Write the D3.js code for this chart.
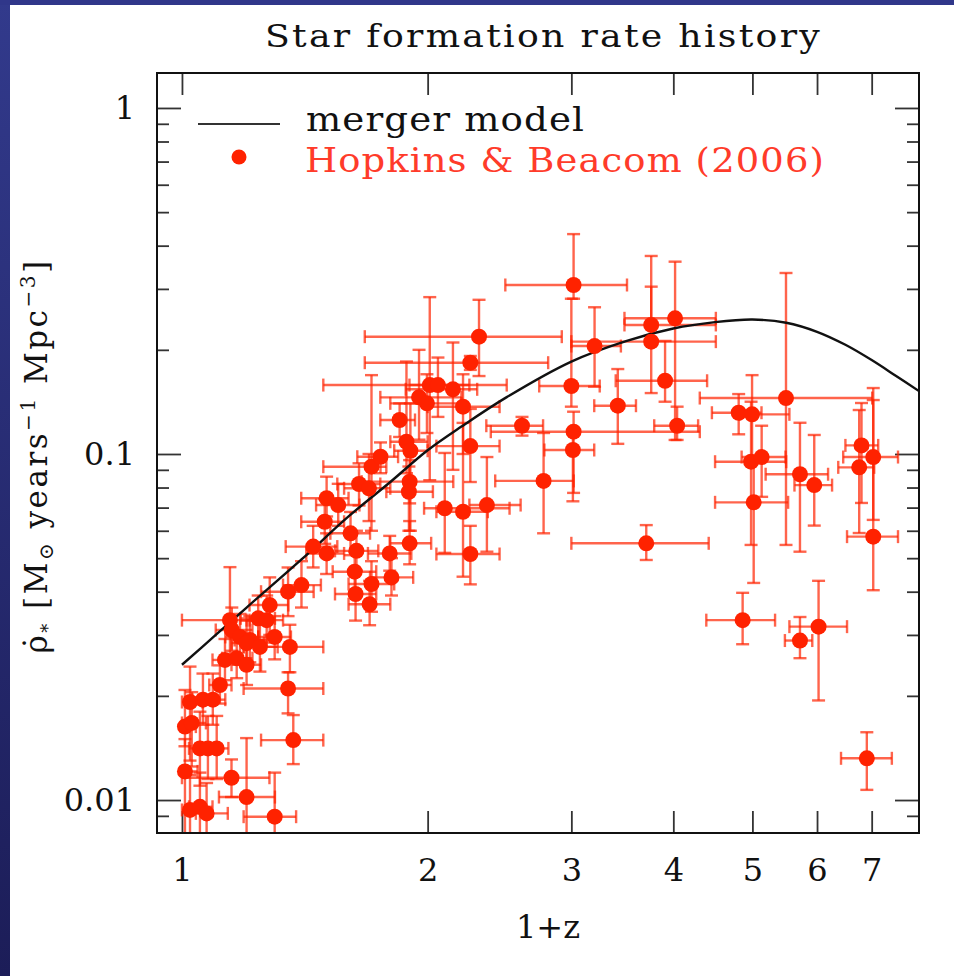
<!DOCTYPE html>
<html>
<head>
<meta charset="utf-8">
<script src="https://cdn.jsdelivr.net/npm/d3@7"></script>
<style>
  body { margin: 0; background: #fff; }
  svg { display: block; }
</style>
</head>
<body>
<svg id="chart" width="954" height="976"></svg>
<script>
// ---- Hopkins & Beacom (2006) compilation: 1+z, its range, SFR density and its range ----
const obsZ = [
  1.0085, 1.023, 1.052, 1.072, 1.0085, 1.028, 1.023, 1.061, 1.091, 1.113,
  1.129, 1.167, 1.200, 1.145, 1.151, 1.178, 1.211, 1.200, 1.240, 1.270,
  1.281, 1.299, 1.246, 1.356, 1.349, 1.401, 1.349, 1.369, 1.052, 1.076,
  1.103, 1.150, 1.200, 1.299,
  1.448, 1.504, 1.496, 1.504, 1.554, 1.609, 1.636, 1.628, 1.632, 1.707,
  1.698, 1.806, 1.797, 1.901, 1.648, 1.695, 1.707, 1.751, 1.848, 1.884,
  1.905, 1.901, 1.897, 1.952, 1.996, 2.012, 2.059, 2.148, 2.210, 2.256,
  2.312, 2.256, 2.099, 2.210, 2.364, 2.256,
  2.610, 2.774, 3.019, 3.000, 3.019, 3.013, 3.203, 3.420, 3.706, 3.758,
  3.758, 4.020, 3.908, 4.043,
  4.810, 4.995, 4.981, 5.132, 5.018, 5.497, 5.718, 5.953, 6.802, 6.758,
  7.031, 7.031, 4.864, 5.718, 6.026, 6.905
];
const obsZLo = [
  1.0, 1.0, 1.02, 1.04, 1.0, 1.0, 1.0, 1.03, 1.06, 1.08,
  1.09, 1.12, 1.15, 1.0, 1.10, 1.13, 1.16, 1.15, 1.18, 1.20,
  1.21, 1.24, 1.19, 1.19, 1.25, 1.33, 1.19, 1.25, 1.02, 1.04,
  1.07, 1.0, 1.11, 1.19,
  1.34, 1.42, 1.40, 1.40, 1.46, 1.52, 1.54, 1.53, 1.54, 1.60,
  1.60, 1.70, 1.69, 1.80, 1.55, 1.58, 1.49, 1.64, 1.75, 1.80,
  1.82, 1.66, 1.78, 1.75, 1.80, 1.49, 1.90, 1.88, 2.00, 1.675,
  1.675, 2.05, 1.98, 2.05, 2.25, 2.05,
  2.36, 2.42, 2.49, 2.74, 2.39, 2.78, 3.00, 3.20, 3.00, 3.485,
  3.00, 3.485, 3.40, 3.79,
  4.46, 4.82, 4.50, 4.85, 4.50, 4.31, 5.19, 5.63, 6.50, 6.37,
  6.46, 6.53, 4.39, 5.48, 5.55, 6.42
];
const obsZHi = [
  1.045, 1.06, 1.09, 1.138, 1.04, 1.07, 1.06, 1.10, 1.13, 1.15,
  1.18, 1.22, 1.25, 1.21, 1.22, 1.24, 1.27, 1.26, 1.30, 1.33,
  1.35, 1.36, 1.31, 1.49, 1.45, 1.48, 1.49, 1.49, 1.09, 1.11,
  1.14, 1.28, 1.30, 1.38,
  1.55, 1.58, 1.58, 1.60, 1.65, 1.70, 1.74, 1.73, 1.73, 1.82,
  1.80, 1.92, 1.91, 2.02, 1.75, 1.80, 1.78, 1.84, 1.93, 2.00,
  2.00, 2.15, 2.03, 2.20, 2.20, 2.50, 2.25, 2.30, 2.45, 2.81,
  2.92, 2.45, 2.52, 2.37, 2.60, 2.45,
  2.77, 3.02, 3.51, 3.25, 4.31, 3.20, 3.45, 3.60, 4.42, 4.51,
  4.51, 4.51, 4.40, 4.29,
  5.13, 5.55, 5.50, 5.49, 5.53, 7.01, 6.19, 6.26, 7.13, 7.05,
  7.54, 7.54, 5.33, 5.92, 6.53, 7.41
];
const obsRho = [
  0.0121, 0.00936, 0.00956, 0.00915, 0.0163, 0.0167, 0.0192, 0.0195, 0.0195, 0.0215,
  0.0254, 0.0257, 0.0246, 0.0331, 0.0310, 0.0296, 0.0290, 0.0284, 0.0335, 0.0331,
  0.0366, 0.0296, 0.0277, 0.0277, 0.0400, 0.0418, 0.0210, 0.0149, 0.0141, 0.0141,
  0.0141, 0.0116, 0.0102, 0.00895,
  0.0540, 0.0516, 0.0637, 0.0745, 0.0712, 0.0590, 0.0525, 0.0457, 0.0394, 0.0421,
  0.0368, 0.0440, 0.0516, 0.0552, 0.0819, 0.0796, 0.0919, 0.0982, 0.1254, 0.1085,
  0.1022, 0.0832, 0.0778, 0.1458, 0.1401, 0.1582, 0.1582, 0.1538, 0.1370, 0.1836,
  0.2183, 0.1054, 0.0697, 0.0681, 0.0712, 0.0514,
  0.1207, 0.0836, 0.3079, 0.1572, 0.1160, 0.1027, 0.2051, 0.1379, 0.0552, 0.2360,
  0.2112, 0.2467, 0.1628, 0.1207,
  0.1316, 0.1302, 0.0950, 0.0980, 0.0725, 0.1451, 0.0874, 0.0813, 0.1059, 0.0915,
  0.0980, 0.0577, 0.0331, 0.0289, 0.0317, 0.0132
];
const obsRhoLo = [
  0.0078, 0.0075, 0.0075, 0.0075, 0.0143, 0.0125, 0.0130, 0.0165, 0.0165, 0.0190,
  0.0222, 0.0225, 0.0215, 0.0254, 0.0270, 0.0255, 0.0250, 0.0245, 0.0290, 0.0285,
  0.0300, 0.0255, 0.0235, 0.0234, 0.0340, 0.0360, 0.0178, 0.0127, 0.0110, 0.0115,
  0.0115, 0.0102, 0.0075, 0.0075,
  0.0470, 0.0450, 0.0550, 0.0660, 0.0620, 0.0510, 0.0460, 0.0400, 0.0330, 0.0350,
  0.0320, 0.0390, 0.0460, 0.0480, 0.0710, 0.0640, 0.0600, 0.0880, 0.1120, 0.0880,
  0.0600, 0.0720, 0.0600, 0.1100, 0.1150, 0.0840, 0.1280, 0.0900, 0.1000, 0.1750,
  0.1680, 0.0830, 0.0518, 0.0442, 0.0522, 0.0420,
  0.113, 0.059, 0.281, 0.137, 0.0772, 0.073, 0.1565, 0.107, 0.0494, 0.2065,
  0.150, 0.1098, 0.1416, 0.1098,
  0.114, 0.0961, 0.0546, 0.0752, 0.0424, 0.0546, 0.0522, 0.0621, 0.0722, 0.0591,
  0.0645, 0.0404, 0.0282, 0.0257, 0.0194, 0.0107
];
const obsRhoHi = [
  0.0150, 0.0118, 0.0120, 0.0112, 0.0208, 0.0205, 0.0243, 0.0232, 0.0232, 0.0245,
  0.0292, 0.0295, 0.0285, 0.0471, 0.0360, 0.0345, 0.0340, 0.0330, 0.0390, 0.0390,
  0.0440, 0.0340, 0.0325, 0.0321, 0.0470, 0.0490, 0.0234, 0.0176, 0.0180, 0.0175,
  0.0175, 0.0131, 0.0151, 0.0120,
  0.0620, 0.0590, 0.0740, 0.0860, 0.0820, 0.0680, 0.0600, 0.0520, 0.0460, 0.0490,
  0.0430, 0.0500, 0.0580, 0.0640, 0.0940, 0.1000, 0.1690, 0.1080, 0.1400, 0.1850,
  0.1400, 0.0960, 0.0920, 0.2000, 0.1700, 0.2840, 0.1900, 0.2100, 0.1700, 0.1920,
  0.2790, 0.1350, 0.1007, 0.1230, 0.0980, 0.0620,
  0.128, 0.115, 0.432, 0.281, 0.1325, 0.117, 0.2655, 0.176, 0.0623, 0.3735,
  0.3045, 0.3596, 0.2122, 0.137,
  0.149, 0.169, 0.1416, 0.1207, 0.0961, 0.3335, 0.1231, 0.1135, 0.1404, 0.134,
  0.1432, 0.1551, 0.0397, 0.0338, 0.043, 0.0157
];

// ---- merger model curve ----
const modelZ = [1.0, 1.1, 1.2, 1.4, 1.6, 1.8, 2.0, 2.2, 2.5, 3.0, 3.5, 4.0, 4.5, 5.0, 5.5, 6.0, 6.5, 7.0, 7.5, 8.0];
const modelRho = [0.0246, 0.0300, 0.0360, 0.0495, 0.0660, 0.0830, 0.1025, 0.1200, 0.1460, 0.1850,
                  0.2120, 0.2305, 0.2405, 0.2447, 0.2395, 0.2255, 0.2068, 0.1868, 0.1680, 0.1520];

// ---- axes ----
const xTicks = [1, 2, 3, 4, 5, 6, 7];
const xTickLabels = ["1", "2", "3", "4", "5", "6", "7"];
const yMajorTicks = [0.01, 0.1, 1];
const yTickLabels = ["0.01", "0.1", "1"];

const titleText = "Star formation rate history";
const xLabelText = "1+z";
const legendModel = "merger model";
const legendData = "Hopkins & Beacom (2006)";

// ---- layout ----
const W = 954, H = 976;
const plot = { left: 157, right: 919, top: 73, bottom: 833 };
const serif = "'DejaVu Serif', 'Liberation Serif', serif";
const red = "#ff2200";

const svg = d3.select("#chart");

// dark slide border along the left and top edges
const defs = svg.append("defs");
const grad = defs.append("linearGradient").attr("id", "edge").attr("x1", 0).attr("y1", 0).attr("x2", 0).attr("y2", 1);
grad.append("stop").attr("offset", "0%").attr("stop-color", "#323a8c");
grad.append("stop").attr("offset", "100%").attr("stop-color", "#1c1d58");
svg.append("rect").attr("x", 0).attr("y", 0).attr("width", W).attr("height", H).attr("fill", "#fff");
svg.append("rect").attr("x", 0).attr("y", 0).attr("width", 10).attr("height", H).attr("fill", "url(#edge)");
svg.append("rect").attr("x", 0).attr("y", 0).attr("width", W).attr("height", 5).attr("fill", "#30378a");

defs.append("clipPath").attr("id", "plotClip")
  .append("rect")
  .attr("x", plot.left).attr("y", plot.top)
  .attr("width", plot.right - plot.left).attr("height", plot.bottom - plot.top);

const x = d3.scaleLog().domain([0.932, 8.0]).range([plot.left, plot.right]);
const y = d3.scaleLog().domain([0.00803, 1.262]).range([plot.bottom, plot.top]);

// minor y ticks: 2..9 within each decade
const yMinorTicks = [];
[-3, -2, -1, 0].forEach(k => {
  for (let m = 2; m <= 9; m++) {
    const v = m * Math.pow(10, k);
    if (v > y.domain()[0] && v < y.domain()[1]) yMinorTicks.push(+v.toPrecision(3));
  }
});

function styleAxis(g) {
  g.select(".domain").remove();
  g.selectAll(".tick line").attr("stroke", "#333").attr("stroke-width", 1.8);
  g.selectAll(".tick text").attr("font-family", serif).attr("font-size", 32).attr("fill", "#111");
}

// bottom axis (with labels)
svg.append("g").attr("transform", `translate(0,${plot.bottom})`)
  .call(d3.axisBottom(x).tickValues(xTicks).tickSize(-22).tickPadding(25)
    .tickFormat((d, i) => xTickLabels[i]))
  .call(styleAxis);
// top axis (ticks only)
svg.append("g").attr("transform", `translate(0,${plot.top})`)
  .call(d3.axisTop(x).tickValues(xTicks).tickSize(-22).tickFormat(""))
  .call(styleAxis);
// left axis majors (with labels) and minors
svg.append("g").attr("transform", `translate(${plot.left},0)`)
  .call(d3.axisLeft(y).tickValues(yMajorTicks).tickSize(-24).tickPadding(22)
    .tickFormat((d, i) => yTickLabels[i]))
  .call(styleAxis);
svg.append("g").attr("transform", `translate(${plot.left},0)`)
  .call(d3.axisLeft(y).tickValues(yMinorTicks).tickSize(-12).tickFormat(""))
  .call(styleAxis);
// right axis majors and minors
svg.append("g").attr("transform", `translate(${plot.right},0)`)
  .call(d3.axisRight(y).tickValues(yMajorTicks).tickSize(-24).tickFormat(""))
  .call(styleAxis);
svg.append("g").attr("transform", `translate(${plot.right},0)`)
  .call(d3.axisRight(y).tickValues(yMinorTicks).tickSize(-12).tickFormat(""))
  .call(styleAxis);

// ---- data ----
const obs = obsZ.map((z, i) => ({
  z, zLo: obsZLo[i], zHi: obsZHi[i],
  rho: obsRho[i], rLo: obsRhoLo[i], rHi: obsRhoHi[i]
}));

const cap = 6.5;
const bars = svg.append("g").attr("clip-path", "url(#plotClip)")
  .attr("stroke", red).attr("stroke-opacity", 0.7).attr("stroke-width", 2.4).attr("fill", "none");

const eb = bars.selectAll("g.eb").data(obs).join("g").attr("class", "eb");
// horizontal bar and end caps
eb.append("line")
  .attr("x1", d => x(d.zLo)).attr("x2", d => x(d.zHi))
  .attr("y1", d => y(d.rho)).attr("y2", d => y(d.rho));
eb.append("line")
  .attr("x1", d => x(d.zLo)).attr("x2", d => x(d.zLo))
  .attr("y1", d => y(d.rho) - cap).attr("y2", d => y(d.rho) + cap);
eb.append("line")
  .attr("x1", d => x(d.zHi)).attr("x2", d => x(d.zHi))
  .attr("y1", d => y(d.rho) - cap).attr("y2", d => y(d.rho) + cap);
// vertical bar and end caps
eb.append("line")
  .attr("x1", d => x(d.z)).attr("x2", d => x(d.z))
  .attr("y1", d => y(d.rHi)).attr("y2", d => y(d.rLo));
eb.append("line")
  .attr("x1", d => x(d.z) - cap).attr("x2", d => x(d.z) + cap)
  .attr("y1", d => y(d.rHi)).attr("y2", d => y(d.rHi));
eb.append("line")
  .attr("x1", d => x(d.z) - cap).attr("x2", d => x(d.z) + cap)
  .attr("y1", d => y(d.rLo)).attr("y2", d => y(d.rLo));

// merger model curve
const model = modelZ.map((z, i) => ({ z, rho: modelRho[i] }));
svg.append("path")
  .datum(model)
  .attr("clip-path", "url(#plotClip)")
  .attr("fill", "none").attr("stroke", "#111").attr("stroke-width", 2.4)
  .attr("d", d3.line().x(d => x(d.z)).y(d => y(d.rho)).curve(d3.curveCatmullRom.alpha(0.5)));

// data points
svg.append("g").attr("clip-path", "url(#plotClip)")
  .selectAll("circle").data(obs).join("circle")
  .attr("cx", d => x(d.z)).attr("cy", d => y(d.rho))
  .attr("r", 8).attr("fill", red);

// frame
svg.append("rect")
  .attr("x", plot.left).attr("y", plot.top)
  .attr("width", plot.right - plot.left).attr("height", plot.bottom - plot.top)
  .attr("fill", "none").attr("stroke", "#111").attr("stroke-width", 2);

// ---- legend ----
svg.append("line").attr("x1", 198).attr("x2", 280).attr("y1", 124).attr("y2", 124)
  .attr("stroke", "#333").attr("stroke-width", 2);
svg.append("text").attr("x", 306).attr("y", 131)
  .attr("font-family", serif).attr("font-size", 33).attr("fill", "#111")
  .attr("letter-spacing", 1)
  .attr("textLength", 279).attr("lengthAdjust", "spacingAndGlyphs")
  .text(legendModel);
svg.append("circle").attr("cx", 239).attr("cy", 157).attr("r", 7.5).attr("fill", red);
svg.append("text").attr("x", 305).attr("y", 172)
  .attr("font-family", serif).attr("font-size", 33).attr("fill", "#ff3b2a")
  .attr("letter-spacing", 1)
  .attr("textLength", 520).attr("lengthAdjust", "spacingAndGlyphs")
  .text(legendData);

// ---- title and axis labels ----
svg.append("text").attr("x", 265).attr("y", 47)
  .attr("font-family", serif).attr("font-size", 32).attr("fill", "#111")
  .attr("letter-spacing", 2)
  .attr("textLength", 557).attr("lengthAdjust", "spacingAndGlyphs")
  .text(titleText);

svg.append("text").attr("x", 548).attr("y", 938).attr("text-anchor", "middle")
  .attr("font-family", serif).attr("font-size", 32).attr("fill", "#111")
  .text(xLabelText);

const yl = svg.append("text")
  .attr("transform", "translate(47,456) rotate(-90)")
  .attr("text-anchor", "middle")
  .attr("font-family", serif).attr("font-size", 31).attr("fill", "#111")
  .attr("letter-spacing", 2.5);
yl.append("tspan").text("\u03C1\u0307");
yl.append("tspan").attr("font-size", 18).attr("dy", 7).text("*");
yl.append("tspan").attr("dy", -7).text(" [M");
yl.append("tspan").attr("font-size", 20).attr("dy", 6).text("\u2299");
yl.append("tspan").attr("dy", -6).text(" years");
yl.append("tspan").attr("font-size", 20).attr("dy", -12).text("\u22121");
yl.append("tspan").attr("dy", 12).text(" Mpc");
yl.append("tspan").attr("font-size", 20).attr("dy", -12).text("\u22123");
yl.append("tspan").attr("dy", 12).text("]");
</script>
</body>
</html>
